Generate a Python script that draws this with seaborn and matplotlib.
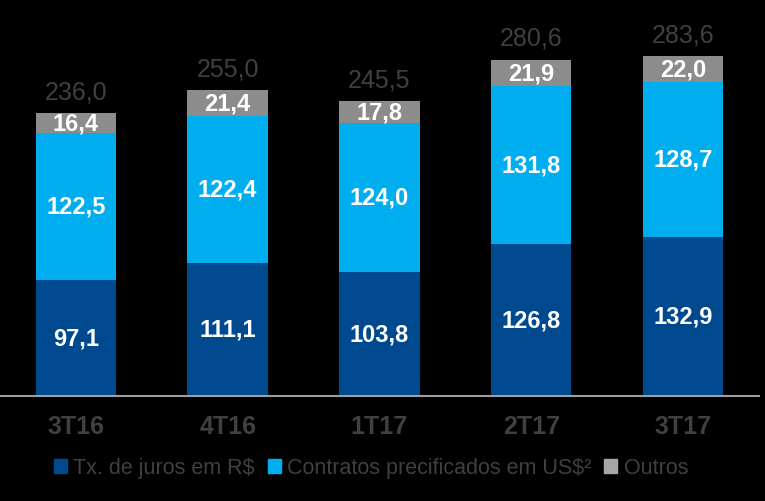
import matplotlib
matplotlib.use("Agg")
import matplotlib.pyplot as plt
import seaborn as sns
import numpy as np
from matplotlib.patches import Patch

categories = ["3T16", "4T16", "1T17", "2T17", "3T17"]
juros_rs = [97.1, 111.1, 103.8, 126.8, 132.9]
contratos_usd = [122.5, 122.4, 124.0, 131.8, 128.7]
outros = [16.4, 21.4, 17.8, 21.9, 22.0]
totais = [236.0, 255.0, 245.5, 280.6, 283.6]
series_names = ["Tx. de juros em R$", "Contratos precificados em US$²", "Outros"]

c_dark = "#01498F"
c_light = "#00AEEF"
c_gray = "#8C8C8C"
c_text = "#404040"

sns.set_theme(style="white")
plt.rcParams['font.family'] = ['Liberation Sans', 'DejaVu Sans']

fig = plt.figure(figsize=(7.65, 5.02), dpi=100, facecolor="black")
ax = fig.add_axes([0, 0.209, 0.992, 0.791])
ax.set_facecolor("black")

b1 = np.array(juros_rs)
b2 = b1 + np.array(contratos_usd)

kw = dict(saturation=1, width=0.53, ax=ax, edgecolor="none", linewidth=0)
sns.barplot(x=categories, y=juros_rs, color=c_dark, **kw)
sns.barplot(x=categories, y=contratos_usd, bottom=b1, color=c_light, **kw)
sns.barplot(x=categories, y=outros, bottom=b2, color=c_gray, **kw)

lab_fs = 17
for i in range(len(categories)):
    ax.text(i, juros_rs[i] / 2, f"{juros_rs[i]:.1f}".replace(".", ","), ha="center", va="center",
            color="white", fontsize=lab_fs, fontweight="bold")
    ax.text(i, b1[i] + contratos_usd[i] / 2, f"{contratos_usd[i]:.1f}".replace(".", ","), ha="center",
            va="center", color="white", fontsize=lab_fs, fontweight="bold")
    ax.text(i, b2[i] + outros[i] / 2, f"{outros[i]:.1f}".replace(".", ","), ha="center", va="center",
            color="white", fontsize=lab_fs, fontweight="bold")
    ax.text(i, totais[i] + 8, f"{totais[i]:.1f}".replace(".", ","), ha="center", va="bottom",
            color=c_text, fontsize=18)

ax.set_xlim(-0.5, 4.5)
ax.set_ylim(0, 331)
ax.set_yticks([])
ax.set_xlabel("")
ax.set_ylabel("")
for s in ["top", "right", "left"]:
    ax.spines[s].set_visible(False)
ax.spines["bottom"].set_color("#A0A0A0")
ax.spines["bottom"].set_linewidth(1.5)
ax.tick_params(axis="x", length=0, pad=13)
for lab in ax.get_xticklabels():
    lab.set_color(c_text)
    lab.set_fontsize(18)
    lab.set_fontweight("bold")

handles = [Patch(color=c_dark), Patch(color=c_light), Patch(color="#A6A6A6")]
leg = fig.legend(handles, series_names, loc="center", bbox_to_anchor=(0.485, 0.066), ncol=3,
                 frameon=False, handlelength=0.6, handleheight=0.6, handletextpad=0.3,
                 columnspacing=0.6, fontsize=15.5)
for t in leg.get_texts():
    t.set_color(c_text)

fig.savefig("out.png", dpi=100, facecolor="black")
